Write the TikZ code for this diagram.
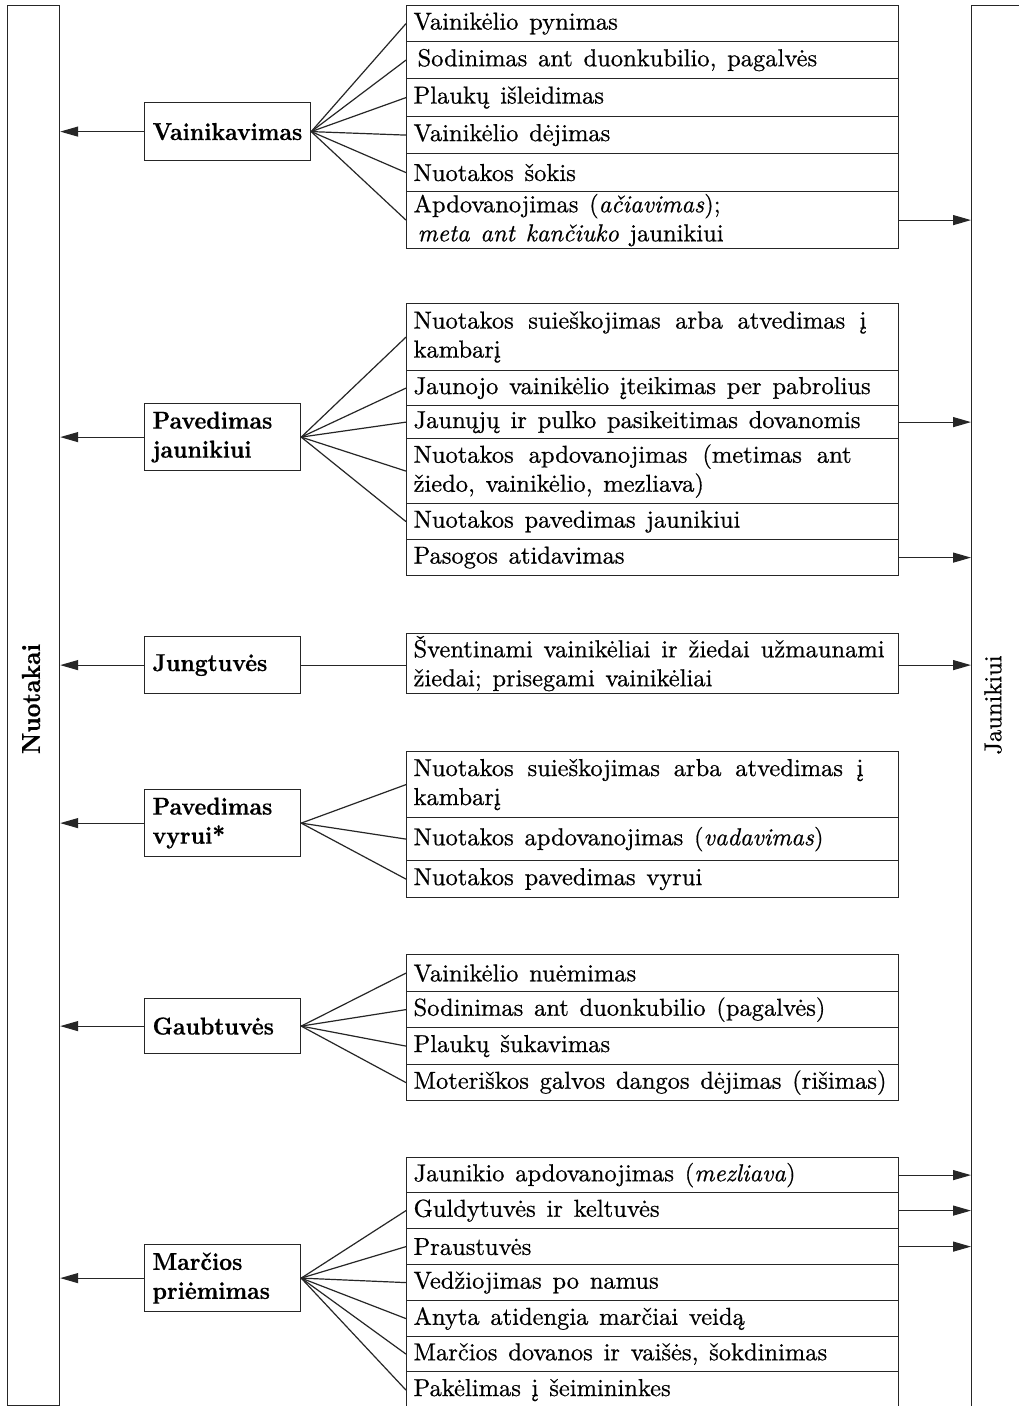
\documentclass[tikz,border=0pt]{standalone}
\usepackage{fontspec}
\setmainfont{lmroman10-regular.otf}[BoldFont=lmroman10-bold.otf, ItalicFont=lmroman10-italic.otf, BoldItalicFont=lmroman10-bolditalic.otf, UprightFeatures={FakeBold=0.6}, ItalicFeatures={FakeBold=0.6}, BoldFeatures={FakeStretch=0.92, FakeBold=0.5}]
\usetikzlibrary{arrows.meta}
\hyphenpenalty=10000
\exhyphenpenalty=10000
\newcommand\spreadline[2]{\makebox[#1][s]{\spaceskip=.3333em plus 1fil\relax #2}}
\begin{document}
\begin{tikzpicture}[x=1pt,y=-1pt,
  txt/.style={font=\fontsize{24.5}{29}\selectfont},
  bfont/.style={font=\fontsize{24.5}{29}\selectfont\bfseries},
  ln/.style={line width=1.2pt, draw=black!85},
  item/.style={ln, txt, anchor=north west, inner xsep=7pt, inner ysep=0pt, text width=478pt, align=left, execute at begin node={\spaceskip=.44em plus .1em\relax}},
  mid/.style={ln, bfont, anchor=north west, inner xsep=8pt, inner ysep=0pt, text width=140pt, align=left},
  arr/.style={ln, -{Triangle[length=18pt,width=10pt]}},
  fan/.style={ln}]
\useasboundingbox (0,0) rectangle (1019,1406);
\fill[white] (0,0) rectangle (1019,1406);

% tall side boxes
\node[ln, anchor=north west, minimum width=52pt, minimum height=1400pt, inner sep=0pt] (nuo) at (7,5) {};
\node[rotate=90, font=\fontsize{26}{29}\selectfont\bfseries] (nuolab) at (31,699) {Nuotakai};
\node[ln, anchor=north west, minimum width=70pt, minimum height=1420pt, inner sep=0pt] (jau) at (971,5) {};
\node[txt, rotate=90] (jaulab) at (993,705) {Jaunikiui};

% middle boxes
\node[mid, minimum width=166pt, text width=150pt, minimum height=58pt] (m1) at (144,102) {Vainikavimas};
\node[mid, minimum width=156pt, minimum height=67pt] (m2) at (144,403) {Pavedimas\\jaunikiui};
\node[mid, minimum width=156pt, minimum height=57pt] (m3) at (144,636) {Jungtuvės};
\node[mid, minimum width=156pt, minimum height=67pt] (m4) at (144,789) {Pavedimas\\vyrui*};
\node[mid, minimum width=156pt, minimum height=55pt] (m5) at (144,998) {Gaubtuvės};
\node[mid, minimum width=156pt, minimum height=67pt] (m6) at (144,1244) {Marčios\\priėmimas};

% group 1
\node[item, minimum height=36pt] (a1) at (406,5) {Vainikėlio pynimas};
\node[item, minimum height=37pt] (a2) at (406,41) {\hspace*{4pt}Sodinimas ant duonkubilio, pagalvės};
\node[item, minimum height=38pt] (a3) at (406,78) {Plaukų išleidimas};
\node[item, minimum height=37pt] (a4) at (406,116) {Vainikėlio dėjimas};
\node[item, minimum height=38pt] (a5) at (406,153) {Nuotakos šokis};
\node[item, minimum height=57pt] (a6) at (406,191) {Apdovanojimas (\textit{ačiavimas});\\\hspace*{4pt}\textit{meta ant kančiuko} jaunikiui};

% group 2
\node[item, minimum height=67pt] (b1) at (406,303) {\spreadline{453pt}{Nuotakos suieškojimas arba atvedimas į}\\kambarį};
\node[item, minimum height=35pt] (b2) at (406,370) {Jaunojo vainikėlio įteikimas per pabrolius};
\node[item, minimum height=33pt] (b3) at (406,405) {Jaunųjų ir pulko pasikeitimas dovanomis};
\node[item, minimum height=65pt] (b4) at (406,438) {\spreadline{438pt}{Nuotakos apdovanojimas (metimas ant}\\žiedo, vainikėlio, mezliava)};
\node[item, minimum height=36pt] (b5) at (406,503) {Nuotakos pavedimas jaunikiui};
\node[item, minimum height=36pt] (b6) at (406,539) {Pasogos atidavimas};

% group 3
\node[item, minimum height=60pt] (c1) at (406,633) {\spreadline{471pt}{Šventinami vainikėliai ir žiedai užmaunami}\\žiedai; prisegami vainikėliai};

% group 4
\node[item, minimum height=66pt] (d1) at (406,751) {\spreadline{450pt}{Nuotakos suieškojimas arba atvedimas į}\\kambarį};
\node[item, minimum height=43pt] (d2) at (406,817) {Nuotakos apdovanojimas (\textit{vadavimas})};
\node[item, minimum height=37pt] (d3) at (406,860) {Nuotakos pavedimas vyrui};

% group 5
\node[item, minimum height=37pt] (e1) at (406,954) {Vainikėlio nuėmimas};
\node[item, minimum height=36pt] (e2) at (406,991) {Sodinimas ant duonkubilio (pagalvės)};
\node[item, minimum height=37pt] (e3) at (406,1027) {Plaukų šukavimas};
\node[item, minimum height=36pt] (e4) at (406,1064) {Moteriškos galvos dangos dėjimas (rišimas)};

% group 6
\node[item, minimum height=35pt] (f1) at (406,1157) {Jaunikio apdovanojimas (\textit{mezliava})};
\node[item, minimum height=36pt] (f2) at (406,1192) {Guldytuvės ir keltuvės};
\node[item, minimum height=36pt] (f3) at (406,1228) {Praustuvės};
\node[item, minimum height=36pt] (f4) at (406,1264) {Vedžiojimas po namus};
\node[item, minimum height=36pt] (f5) at (406,1300) {Anyta atidengia marčiai veidą};
\node[item, minimum height=35pt] (f6) at (406,1336) {Marčios dovanos ir vaišės, šokdinimas};
\node[item, minimum height=37pt] (f7) at (406,1371) {Pakėlimas į šeimininkes};

% arrows to Nuotakai
\foreach \m in {m1,m2,m3,m4,m5,m6}
  \draw[arr] (\m.west) -- (\m.west -| nuo.east);

% fans
\foreach \r in {a1,a2,a3,a4,a5,a6} \draw[fan] (m1.east) -- (\r.west);
\foreach \r in {b1,b2,b3,b4,b5} \draw[fan] (m2.east) -- (\r.west);
\draw[fan] (m3.east) -- (m3.east -| c1.west);
\foreach \r in {d1,d2,d3} \draw[fan] (m4.east) -- (\r.west);
\foreach \r in {e1,e2,e3,e4} \draw[fan] (m5.east) -- (\r.west);
\foreach \r in {f2,f3,f4,f5,f6,f7} \draw[fan] (m6.east) -- (\r.west);

% arrows to Jaunikiui
\foreach \r in {a6,b3,b6,f1,f2,f3}
  \draw[arr] (\r.east) -- (\r.east -| jau.west);
\draw[arr] (c1.east |- m3.east) -- (m3.east -| jau.west);
\end{tikzpicture}
\end{document}
